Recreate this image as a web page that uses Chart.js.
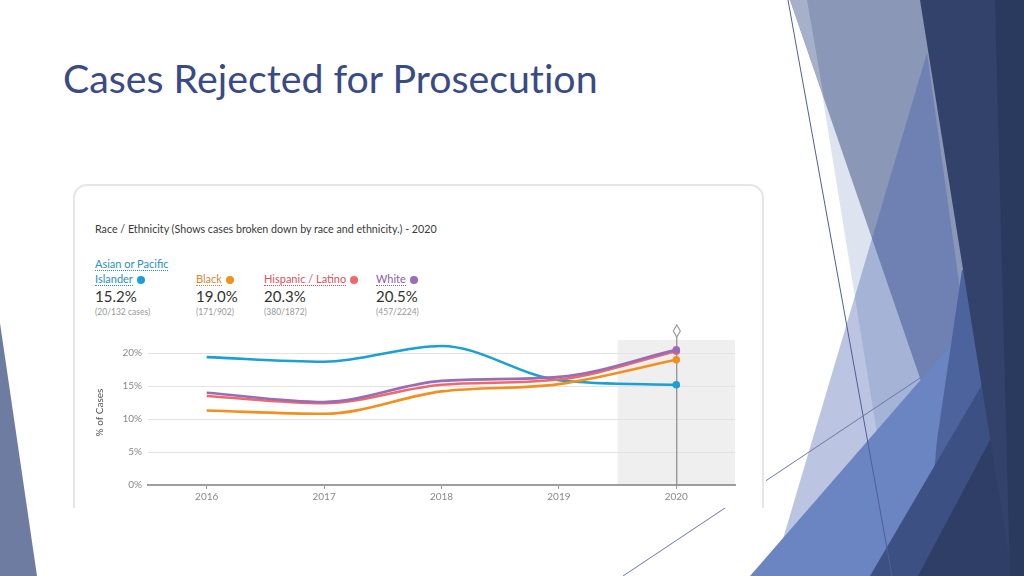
<!DOCTYPE html>
<html>
<head>
<meta charset="utf-8">
<script src="https://cdn.jsdelivr.net/npm/chart.js@4/dist/chart.umd.min.js"></script>
<style>
  html, body { margin: 0; padding: 0; background: #fff; }
  #slide { position: relative; width: 1024px; height: 576px; overflow: hidden; background: #fff; font-family: Lato, 'Open Sans', sans-serif; }
  #deco { position: absolute; left: 0; top: 0; }
  #slideTitle { position: absolute; left: 63px; top: 54px; font-family: Lato, sans-serif; font-size: 39.3px; line-height: 48px; color: #3a4a82; white-space: nowrap; font-variant-ligatures: none; }
  #shot { position: absolute; left: 68px; top: 178px; width: 698px; height: 330px; overflow: hidden; background: #fff; }
  #card { position: absolute; left: 5px; top: 6px; width: 691px; height: 420px; border: 2px solid #e6e6e6; border-radius: 14px; box-sizing: border-box; }
  .txt { position: absolute; white-space: nowrap; }
  #cardTitle { left: 95px; top: 221px; font-size: 10.7px; line-height: 16px; color: #3a3a3a; }
  .name { font-size: 11px; line-height: 15px; }
  .name span { border-bottom: 1px dotted currentColor; }
  .dot { display: inline-block; width: 8px; height: 8px; border-radius: 50%; margin-left: 4px; vertical-align: -0.5px; }
  .pct { font-size: 15px; line-height: 18px; color: #333; }
  .cnt { font-size: 8.5px; line-height: 12px; color: #999; }
  #chartBox { position: absolute; left: 90px; top: 322px; width: 660px; height: 186px; }
</style>
</head>
<body>
<div id="slide">
  <svg id="deco" width="1024" height="576" viewBox="0 0 1024 576">
    <polygon points="0,323 37,576 0,576" fill="#6f7ca1"/>
    <polygon points="807,0 1024,0 1024,576 900,576" fill="#dde3ef"/>
    <polygon points="790,0 1024,0 1024,576 988,576" fill="#8b97b7"/>
    <polygon points="790,0 807,0 824,98" fill="#a6b0cb"/>
    <polygon points="927,53 772,576 1000,576" fill="rgba(61,90,168,0.35)"/>
    <polygon points="750,576 1024,261 1024,576" fill="#6a85c1"/>
    <polygon points="962,270 937,440 925,576 1024,576 1024,270" fill="#4d639e"/>
    <polygon points="870,576 1024,313 1024,576" fill="#3d5083"/>
    <polygon points="918,576 990,440 1024,440 1024,576" fill="#2f3e66"/>
    <polygon points="920,0 1024,0 1024,576 1012,576" fill="#32426a"/>
    <polygon points="995,0 1024,0 1024,576 1010,576" fill="#2a395e"/>
    <line x1="788" y1="0" x2="892" y2="576" stroke="#4f5f96" stroke-width="1"/>
    <line x1="623" y1="576" x2="920" y2="378" stroke="#6a78a6" stroke-width="1"/>
  </svg>
  <div id="slideTitle">Cases Rejected for Prosecution</div>
  <div id="shot"><div id="card"></div></div>
  <div id="cardTitle" class="txt">Race / Ethnicity (Shows cases broken down by race and ethnicity.) - 2020</div>
  <div id="legend"></div>
  <div id="chartBox"><canvas id="chart" width="660" height="186"></canvas></div>
</div>
<script>
// chart data
const years = ['2016', '2017', '2018', '2019', '2020'];
const groups = ['Asian or Pacific Islander', 'Black', 'Hispanic / Latino', 'White'];
const asianPct = [19.4, 18.7, 21.1, 15.9, 15.2];
const blackPct = [11.3, 10.8, 14.2, 15.3, 19.0];
const hispanicPct = [13.5, 12.4, 15.2, 16.0, 20.3];
const whitePct = [14.0, 12.6, 15.8, 16.4, 20.5];
const latestPct = ['15.2%', '19.0%', '20.3%', '20.5%'];
const caseCounts = ['(20/132 cases)', '(171/902)', '(380/1872)', '(457/2224)'];
const yTicks = [0, 5, 10, 15, 20];

const lineColors = ['#1c9fd3', '#f2901f', '#ec6a6c', '#9a6cb6'];
const textColors = ['#2a90c0', '#d2883a', '#d9515d', '#8d5ba8'];
const legendX = [95, 196, 264, 376];

// legend header built from the arrays
const legend = document.getElementById('legend');
groups.forEach((name, i) => {
  const col = document.createElement('div');
  col.className = 'txt';
  col.style.left = legendX[i] + 'px';
  const dot = '<i class="dot" style="background:' + lineColors[i] + '"></i>';
  let nameHtml;
  if (i === 0) {
    col.style.top = '256px';
    nameHtml = '<div class="name" style="color:' + textColors[i] + '"><span>Asian or Pacific</span></div>' +
               '<div class="name" style="color:' + textColors[i] + '"><span>Islander</span>' + dot + '</div>';
  } else {
    col.style.top = '271px';
    nameHtml = '<div class="name" style="color:' + textColors[i] + '"><span>' + name + '</span>' + dot + '</div>';
  }
  col.innerHTML = nameHtml +
    '<div class="pct" style="margin-top:1px">' + latestPct[i] + '</div>' +
    '<div class="cnt" style="margin-top:1px">' + caseCounts[i] + '</div>';
  legend.appendChild(col);
});

const highlightPlugin = {
  id: 'highlight',
  beforeDraw(chart) {
    const { ctx, chartArea, scales: { x } } = chart;
    const last = years.length - 1;
    const half = (x.getPixelForValue(1) - x.getPixelForValue(0)) / 2;
    const left = x.getPixelForValue(last) - half;
    ctx.save();
    ctx.fillStyle = '#efefef';
    ctx.fillRect(left, chartArea.top, chartArea.right - left, chartArea.bottom - chartArea.top);
    ctx.restore();
  },
  beforeDatasetsDraw(chart) {
    const { ctx, chartArea, scales: { x } } = chart;
    const cx = x.getPixelForValue(years.length - 1);
    const dy = chartArea.top - 9;
    ctx.save();
    ctx.strokeStyle = '#777';
    ctx.lineWidth = 1;
    ctx.beginPath();
    ctx.moveTo(cx + 0.5, dy + 6);
    ctx.lineTo(cx + 0.5, chartArea.bottom);
    ctx.stroke();
    // diamond marker
    ctx.strokeStyle = '#9a9a9a';
    ctx.lineWidth = 1.2;
    ctx.beginPath();
    ctx.moveTo(cx + 0.5, dy - 6);
    ctx.lineTo(cx + 4, dy);
    ctx.lineTo(cx + 0.5, dy + 6);
    ctx.lineTo(cx - 3, dy);
    ctx.closePath();
    ctx.stroke();
    ctx.restore();
  }
};

function series(label, data, i, order) {
  return {
    label: label,
    data: data,
    borderColor: lineColors[i],
    backgroundColor: lineColors[i],
    borderWidth: 2.6,
    cubicInterpolationMode: 'monotone',
    pointRadius: data.map((v, k) => k === data.length - 1 ? 3.8 : 0),
    pointBorderWidth: 0,
    order: order
  };
}

const tickFont = { family: 'Lato', size: 10 };

new Chart(document.getElementById('chart'), {
  type: 'line',
  data: {
    labels: years,
    datasets: [
      series(groups[0], asianPct, 0, 3),
      series(groups[1], blackPct, 1, 2),
      series(groups[2], hispanicPct, 2, 1),
      series(groups[3], whitePct, 3, 0)
    ]
  },
  options: {
    responsive: false,
    animation: false,
    layout: { padding: { top: 18, right: 15, left: 0, bottom: 0 } },
    plugins: { legend: { display: false }, tooltip: { enabled: false } },
    scales: {
      x: {
        offset: true,
        grid: { display: true, drawOnChartArea: false, drawTicks: true, tickLength: 4, color: '#9a9a9a', offset: false },
        border: { display: true, color: '#9e9e9e', width: 2 },
        ticks: { color: '#8a8a8a', font: tickFont, padding: 2, maxRotation: 0 },
        afterFit(scale) { scale.height = 23; }
      },
      y: {
        min: 0,
        max: 22,
        afterBuildTicks(scale) { scale.ticks = yTicks.map(v => ({ value: v })); },
        grid: {
          drawTicks: false,
          color: c => (c.tick && c.tick.value === 0) ? 'rgba(0,0,0,0)' : '#e4e4e4'
        },
        border: { display: false },
        ticks: { color: '#8a8a8a', font: tickFont, padding: 6, callback: v => v + '%' },
        title: { display: true, text: '% of Cases', color: '#555', font: { family: 'Lato', size: 10 }, padding: { top: 4, bottom: 0 } },
        afterFit(scale) { scale.width = 58; }
      }
    }
  },
  plugins: [highlightPlugin]
});
</script>
</body>
</html>
